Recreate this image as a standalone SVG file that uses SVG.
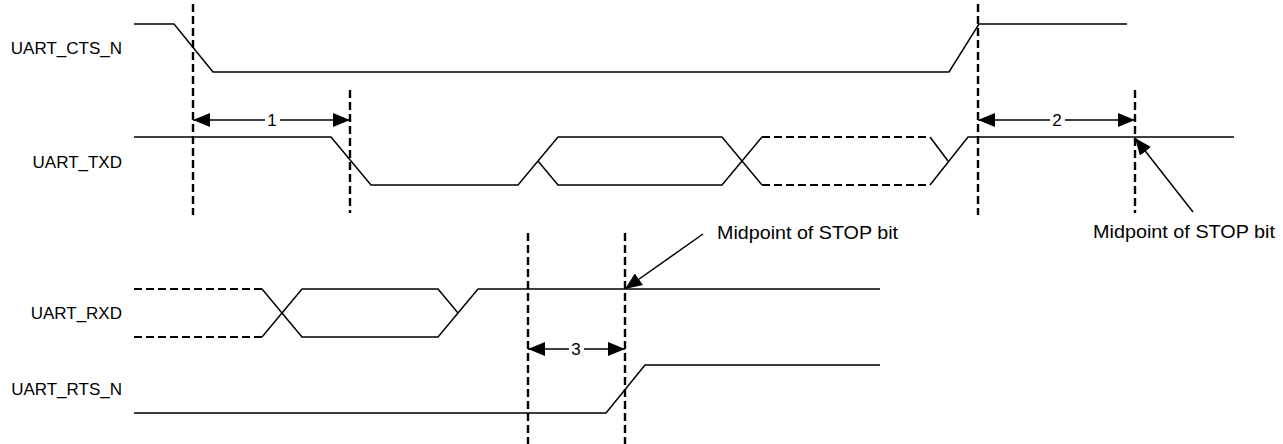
<svg xmlns="http://www.w3.org/2000/svg" width="1283" height="444" viewBox="0 0 1283 444">
<style>
.sig{fill:none;stroke:#000;stroke-width:1.5;stroke-linejoin:miter}
.dsig{fill:none;stroke:#000;stroke-width:2.2;stroke-dasharray:8 4}
.vd{fill:none;stroke:#000;stroke-width:2.4;stroke-dasharray:8 4}
.dim{fill:none;stroke:#000;stroke-width:1.5}
.lbl{font-family:"Liberation Sans",Arial,sans-serif;font-size:17px;fill:#000}
.note{font-family:"Liberation Sans",Arial,sans-serif;font-size:18px;fill:#000}
</style>
<defs>
<marker id="ah" viewBox="0 0 17 14" refX="17" refY="7" markerWidth="17" markerHeight="14" markerUnits="userSpaceOnUse" orient="auto">
<path d="M0,0 L17,7 L0,14 z" fill="#000"/>
</marker>
</defs>
<rect width="1283" height="444" fill="#fff"/>

<g id="cts">
<text class="lbl" x="122" y="54" text-anchor="end">UART_CTS_N</text>
<polyline class="sig" points="134,24 174,24 213,72 949,72 979,24 1127,24"/>
</g>

<g id="txd">
<text class="lbl" x="122" y="168" text-anchor="end">UART_TXD</text>
<polyline class="sig" points="134,137 331,137 371,185 518,185 558,137 722,137 762,185"/>
<polyline class="sig" points="538,161 558,185 722,185 762,137"/>
<polyline class="dsig" points="762,137 930,137"/>
<polyline class="dsig" points="762,185 930,185"/>
<polyline class="sig" points="930,137 948,161"/>
<polyline class="sig" points="930,185 968,137 1234,137"/>
</g>

<g id="rxd">
<text class="lbl" x="122" y="319" text-anchor="end">UART_RXD</text>
<polyline class="dsig" points="134,289 262,289"/>
<polyline class="dsig" points="134,337 262,337"/>
<polyline class="sig" points="262,289 302,337 438,337 478,289 880,289"/>
<polyline class="sig" points="262,337 302,289 438,289 458,313"/>
</g>

<g id="rts">
<text class="lbl" x="122" y="395" text-anchor="end">UART_RTS_N</text>
<polyline class="sig" points="134,413 606,413 645,365 880,365"/>
</g>

<g id="markers">
<line class="vd" x1="193" y1="4" x2="193" y2="215"/>
<line class="vd" x1="350" y1="90" x2="350" y2="213"/>
<line class="vd" x1="978" y1="4" x2="978" y2="215"/>
<line class="vd" x1="1135" y1="90" x2="1135" y2="213"/>
<line class="vd" x1="528" y1="233" x2="528" y2="444"/>
<line class="vd" x1="625" y1="233" x2="625" y2="444"/>
</g>

<g id="connectors">
<line class="dim" x1="265" y1="120" x2="193" y2="120" marker-end="url(#ah)"/>
<line class="dim" x1="280" y1="120" x2="350" y2="120" marker-end="url(#ah)"/>
<text class="lbl" x="272" y="126" text-anchor="middle">1</text>
<line class="dim" x1="1050" y1="120" x2="978" y2="120" marker-end="url(#ah)"/>
<line class="dim" x1="1065" y1="120" x2="1135" y2="120" marker-end="url(#ah)"/>
<text class="lbl" x="1057" y="126" text-anchor="middle">2</text>
<line class="dim" x1="569" y1="349" x2="528" y2="349" marker-end="url(#ah)"/>
<line class="dim" x1="584" y1="349" x2="625" y2="349" marker-end="url(#ah)"/>
<text class="lbl" x="576" y="355" text-anchor="middle">3</text>
<line class="dim" x1="703" y1="234" x2="625" y2="289" marker-end="url(#ah)"/>
<line class="dim" x1="1193" y1="212" x2="1135" y2="138" marker-end="url(#ah)"/>
</g>

<g id="notes">
<text class="note" x="717" y="239" textLength="181" lengthAdjust="spacingAndGlyphs">Midpoint of STOP bit</text>
<text class="note" x="1093" y="238" textLength="182" lengthAdjust="spacingAndGlyphs">Midpoint of STOP bit</text>
</g>
</svg>
